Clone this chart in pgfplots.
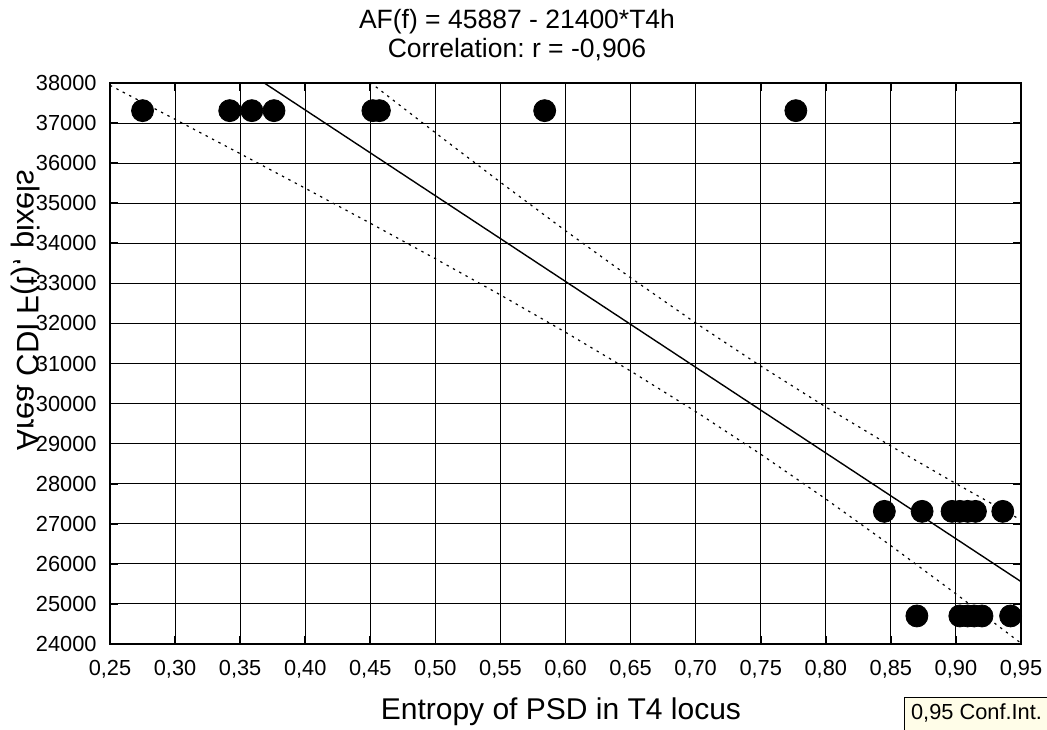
\documentclass[border=0pt]{standalone}
\usepackage{fontspec}
\setmainfont{Liberation Sans}
\usepackage{pgfplots}
\pgfplotsset{compat=1.18}
\definecolor{legbg}{RGB}{255,253,232}
\frenchspacing
\begin{document}
\begin{tikzpicture}
\path[use as bounding box] (-55pt,-42.5pt) rectangle (468.5pt,322pt);
\begin{axis}[
  at={(0,0)}, anchor=south west,
  scale only axis, width=455.5pt, height=280.5pt,
  xmin=0.25, xmax=0.95, ymin=24000, ymax=38000,
  xtick={0.25,0.30,0.35,0.40,0.45,0.50,0.55,0.60,0.65,0.70,0.75,0.80,0.85,0.90,0.95},
  xticklabels={{0,25},{0,30},{0,35},{0,40},{0,45},{0,50},{0,55},{0,60},{0,65},{0,70},{0,75},{0,80},{0,85},{0,90},{0,95}},
  ytick={24000,25000,26000,27000,28000,29000,30000,31000,32000,33000,34000,35000,36000,37000,38000},
  scaled y ticks=false,
  yticklabel style={/pgf/number format/1000 sep={}, /pgf/number format/assume math mode=true,
    font=\fontsize{10.9}{12}\selectfont, anchor=east, inner sep=0pt, xshift=-6.5pt},
  xticklabel style={font=\fontsize{10.9}{12}\selectfont, anchor=base, inner sep=0pt, yshift=-15.5pt},
  grid=major, major grid style={black, line width=0.45pt},
  axis line style={line width=1pt},
  tick align=inside, major tick length=4pt, tick style={black, line width=0.8pt},
  xlabel={Entropy of PSD in T4 locus},
  xlabel style={at={(axis description cs:0.495,0)}, anchor=base, inner sep=0pt, yshift=-37.5pt, font=\fontsize{15}{18}\selectfont},
  ylabel={Area CDI F(t), pixels},
  ylabel style={at={(axis description cs:-0.093,0.5954)}, anchor=center, yscale=-1, font=\fontsize{15.5}{18}\selectfont},
  clip=true,
]
% confidence bands
\addplot[black, line width=0.6pt, dash pattern=on 1.2pt off 2.4pt] coordinates {
(0.25,43131) (0.30,41841) (0.35,40557) (0.40,39280) (0.45,38013) (0.50,36759) (0.55,35523) (0.60,34314) (0.65,33141) (0.70,32012) (0.75,30937) (0.80,29915) (0.85,28940) (0.90,28003) (0.95,27094)};
\addplot[black, line width=0.6pt, dash pattern=on 1.2pt off 2.4pt] coordinates {
(0.25,37943) (0.30,37093) (0.35,36237) (0.40,35374) (0.45,34501) (0.50,33615) (0.55,32711) (0.60,31780) (0.65,30813) (0.70,29802) (0.75,28737) (0.80,27619) (0.85,26454) (0.90,25251) (0.95,24020)};
% regression line
\addplot[black, line width=0.7pt] coordinates {(0.25,40537) (0.95,25557)};
% data
\addplot[only marks, mark=*, mark size=5.5pt, black, mark options={fill=black, draw=black}] coordinates {
(0.275,37310) (0.342,37310) (0.359,37310) (0.376,37310) (0.452,37310) (0.457,37310) (0.584,37310) (0.777,37310)
(0.845,27310) (0.874,27310) (0.897,27310) (0.903,27310) (0.909,27310) (0.915,27310) (0.936,27310)
(0.870,24700) (0.903,24700) (0.909,24700) (0.914,24700) (0.920,24700) (0.942,24700)};
\end{axis}
\node[anchor=base, font=\fontsize{13.25}{15}\selectfont, inner sep=0pt] at (203.5pt,307.5pt) {AF(f) = 45887 - 21400*T4h};
\node[anchor=base, font=\fontsize{13.25}{15}\selectfont, inner sep=0pt] at (203.5pt,293pt) {Correlation: r = -0,906};
\draw[black, line width=0.5pt, fill=legbg] (397pt,-26.5pt) rectangle (480pt,-50pt);
\node[anchor=base west, inner sep=0pt, font=\fontsize{10.9}{12}\selectfont] at (400.35pt,-37.5pt) {0,95 Conf.Int.};
\end{tikzpicture}
\end{document}
